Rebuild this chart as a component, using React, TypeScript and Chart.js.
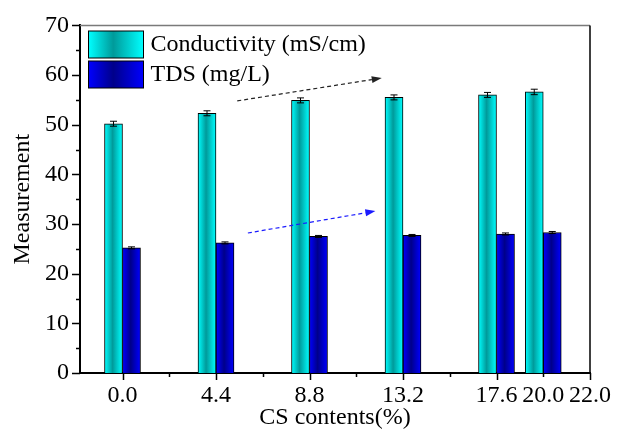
import React, { useEffect, useRef } from 'react';
import { Chart, registerables } from 'chart.js';

Chart.register(...registerables);

// ---- data ----
const categories = ['0.0', '4.4', '8.8', '13.2', '17.6', '20.0'];
const xPositions = [0, 4.4, 8.8, 13.2, 17.6, 19.8];
const conductivity = [50.2, 52.3, 54.9, 55.5, 56.0, 56.6];
const conductivityErr = [0.5, 0.5, 0.5, 0.5, 0.5, 0.55];
const tds = [25.2, 26.2, 27.5, 27.7, 28.0, 28.3];
const tdsErr = [0.2, 0.2, 0.2, 0.2, 0.2, 0.2];
const seriesNames = ['Conductivity (mS/cm)', 'TDS (mg/L)'];
const xTickValues = [0, 2.2, 4.4, 6.6, 8.8, 11, 13.2, 15.4, 17.6, 19.8, 22];
const xTickLabels = ['0.0', '', '4.4', '', '8.8', '', '13.2', '', '17.6', '20.0', '22.0'];
const xTickMajor = [true, false, true, false, true, false, true, false, true, false, true];
const yTickValues = [0, 10, 20, 30, 40, 50, 60, 70];
const yMinorValues = [5, 15, 25, 35, 45, 55, 65];
const arrowFrom = [[5.4, 54.8], [5.9, 28.2]];
const arrowTo = [[12.2, 59.4], [11.9, 32.6]];
const arrowColors = ['#222222', '#1a1aff'];

const FONT = "'Liberation Serif', 'Times New Roman', serif";
const BAR_W = 18;
const condStops = ['#00ffff', '#009a9a', '#00ffff'];
const tdsStops = ['#0000ff', '#00008a', '#0000ff'];

function makeGrad(ctx: CanvasRenderingContext2D, x0: number, w: number, stops: string[]) {
  const g = ctx.createLinearGradient(x0, 0, x0 + w, 0);
  g.addColorStop(0, stops[0]);
  g.addColorStop(0.45, stops[1]);
  g.addColorStop(1, stops[2]);
  return g;
}

function barFill(stops: string[], side: number) {
  return (c: any) => {
    const chart = c.chart;
    if (c.dataIndex === undefined || !chart.chartArea || !chart.scales.x) return stops[1];
    const px = chart.scales.x.getPixelForValue(xPositions[c.dataIndex]);
    const left = side === 0 ? px - BAR_W : px;
    return makeGrad(chart.ctx, left, BAR_W, stops);
  };
}

const decorPlugin = {
  id: 'decor',
  afterDatasetsDraw(chart: any) {
    const { ctx, scales } = chart;
    const x = scales.x, y = scales.y;
    ctx.save();
    // error bars
    const series = [
      { vals: conductivity, errs: conductivityErr, off: -BAR_W / 2 },
      { vals: tds, errs: tdsErr, off: BAR_W / 2 },
    ];
    ctx.strokeStyle = '#000';
    ctx.lineWidth = 1;
    series.forEach((s) => {
      s.vals.forEach((v, i) => {
        const cx = x.getPixelForValue(xPositions[i]) + s.off;
        const yt = y.getPixelForValue(v + s.errs[i]);
        const yb = y.getPixelForValue(v - s.errs[i]);
        ctx.beginPath();
        ctx.moveTo(cx, yt); ctx.lineTo(cx, yb);
        ctx.moveTo(cx - 3.5, yt); ctx.lineTo(cx + 3.5, yt);
        ctx.moveTo(cx - 3.5, yb); ctx.lineTo(cx + 3.5, yb);
        ctx.stroke();
      });
    });
    // arrows
    arrowFrom.forEach((f, i) => {
      const x0 = x.getPixelForValue(f[0]), y0 = y.getPixelForValue(f[1]);
      const x1 = x.getPixelForValue(arrowTo[i][0]), y1 = y.getPixelForValue(arrowTo[i][1]);
      const ang = Math.atan2(y1 - y0, x1 - x0);
      const hl = 10, hw = 3.5;
      const bx = x1 - hl * Math.cos(ang), by = y1 - hl * Math.sin(ang);
      ctx.strokeStyle = arrowColors[i];
      ctx.fillStyle = arrowColors[i];
      ctx.lineWidth = 1.2;
      ctx.setLineDash([4, 3]);
      ctx.beginPath();
      ctx.moveTo(x0, y0); ctx.lineTo(bx, by);
      ctx.stroke();
      ctx.setLineDash([]);
      ctx.beginPath();
      ctx.moveTo(x1, y1);
      ctx.lineTo(bx + hw * Math.sin(ang), by - hw * Math.cos(ang));
      ctx.lineTo(bx - hw * Math.sin(ang), by + hw * Math.cos(ang));
      ctx.closePath();
      ctx.fill();
    });
    ctx.restore();
  },
  afterDraw(chart: any) {
    const { ctx, scales, chartArea } = chart;
    const x = scales.x, y = scales.y;
    const { left, right, top, bottom } = chartArea;
    ctx.save();
    // frame top/right
    ctx.lineWidth = 1.5;
    ctx.strokeStyle = '#7a7a7a';
    ctx.beginPath(); ctx.moveTo(left, top); ctx.lineTo(right, top); ctx.stroke();
    ctx.strokeStyle = '#000';
    ctx.beginPath(); ctx.moveTo(right, top); ctx.lineTo(right, bottom); ctx.stroke();
    // tick marks
    ctx.lineWidth = 1.5;
    ctx.strokeStyle = '#000';
    ctx.beginPath();
    xTickValues.forEach((v, i) => {
      const px = Math.round(x.getPixelForValue(v)) + 0.5;
      const len = xTickMajor[i] ? 7 : 4;
      ctx.moveTo(px, bottom); ctx.lineTo(px, bottom + len);
    });
    yTickValues.forEach((v) => {
      const py = Math.round(y.getPixelForValue(v)) + 0.5;
      ctx.moveTo(left, py); ctx.lineTo(left - 8, py);
    });
    yMinorValues.forEach((v) => {
      const py = Math.round(y.getPixelForValue(v)) + 0.5;
      ctx.moveTo(left, py); ctx.lineTo(left - 4, py);
    });
    ctx.stroke();
    // legend
    const sw = [
      { y0: 31, stops: condStops },
      { y0: 61, stops: tdsStops },
    ];
    ctx.font = `24px ${FONT}`;
    ctx.textBaseline = 'middle';
    ctx.textAlign = 'left';
    sw.forEach((s, i) => {
      const lx = left + 8.5;
      ctx.fillStyle = makeGrad(ctx, lx, 55, s.stops);
      ctx.fillRect(lx, s.y0, 55, 27);
      ctx.lineWidth = 1;
      ctx.strokeStyle = '#000';
      ctx.strokeRect(lx, s.y0, 55, 27);
      ctx.fillStyle = '#000';
      ctx.fillText(seriesNames[i], lx + 62, s.y0 + 14);
    });
    ctx.restore();
  },
};

export default function App() {
  const ref = useRef<HTMLCanvasElement | null>(null);
  useEffect(() => {
    document.body.style.margin = '0';
    const canvas = ref.current;
    if (!canvas) return;
    const chart = new Chart(canvas, {
      type: 'bar',
      data: {
        datasets: [
          {
            label: seriesNames[0],
            data: xPositions.map((xv, i) => ({ x: xv, y: conductivity[i] })) as any,
            backgroundColor: barFill(condStops, 0) as any,
            borderColor: '#000',
            borderWidth: 1,
            barThickness: BAR_W,
          },
          {
            label: seriesNames[1],
            data: xPositions.map((xv, i) => ({ x: xv, y: tds[i] })) as any,
            backgroundColor: barFill(tdsStops, 1) as any,
            borderColor: '#000',
            borderWidth: 1,
            barThickness: BAR_W,
          },
        ],
      },
      options: {
        animation: false,
        responsive: false,
        maintainAspectRatio: false,
        layout: { padding: { top: 23, right: 23, left: 0, bottom: 0 } },
        plugins: { legend: { display: false }, tooltip: { enabled: false } },
        scales: {
          x: {
            type: 'linear',
            min: -2,
            max: 22,
            offset: false,
            grid: { display: false, drawTicks: false },
            border: { display: true, color: '#000', width: 2 },
            afterBuildTicks: (s: any) => {
              s.ticks = xTickValues.map((v) => ({ value: v }));
            },
            afterFit: (s: any) => { s.height = 63; },
            ticks: {
              autoSkip: false,
              maxRotation: 0,
              minRotation: 0,
              padding: 8,
              color: '#000',
              font: { family: FONT, size: 24 },
              callback: (_v: any, i: number) => xTickLabels[i],
            },
            title: {
              display: true,
              text: 'CS contents(%)',
              color: '#000',
              font: { family: FONT, size: 24 },
              padding: { top: 0, bottom: 4 },
            },
          },
          y: {
            min: 0,
            max: 70,
            grid: { display: false, drawTicks: false },
            border: { display: true, color: '#000', width: 2 },
            afterBuildTicks: (s: any) => {
              s.ticks = yTickValues.map((v) => ({ value: v }));
            },
            afterFit: (s: any) => { s.width = 80; },
            ticks: {
              padding: 11,
              color: '#000',
              font: { family: FONT, size: 24 },
            },
            title: {
              display: true,
              text: 'Measurement',
              color: '#000',
              font: { family: FONT, size: 24 },
              padding: { top: 8, bottom: 0 },
            },
          },
        },
      },
      plugins: [decorPlugin],
    });
    return () => chart.destroy();
  }, []);
  return (
    <div style={{ width: 619, height: 436, background: '#fff' }}>
      <canvas ref={ref} width={619} height={436} style={{ display: 'block' }} />
    </div>
  );
}
